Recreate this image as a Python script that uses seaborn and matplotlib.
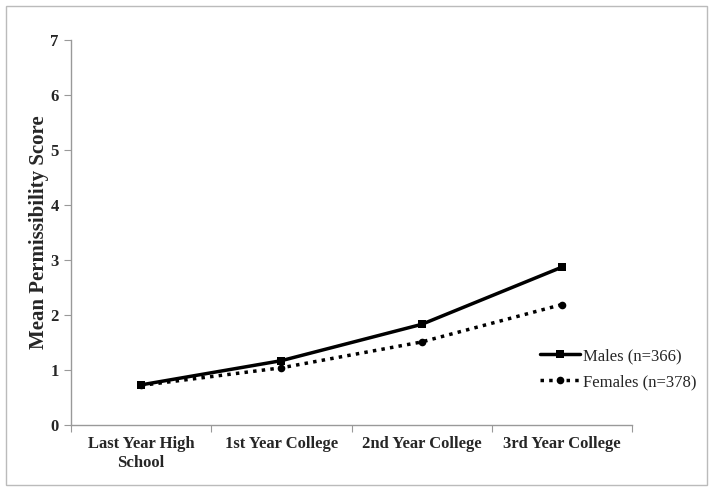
import pandas as pd
import matplotlib.pyplot as plt
import seaborn as sns
from matplotlib.patches import Rectangle

# Values
stages = ['Last Year High\nSchool', '1st Year College', '2nd Year College', '3rd Year College']
males = [0.73, 1.17, 1.83, 2.87]
females = [0.72, 1.04, 1.51, 2.19]
series_names = ['Males (n=366)', 'Females (n=378)']

df = pd.DataFrame({
    'Stage': stages * 2,
    'Score': males + females,
    'Group': [series_names[0]] * 4 + [series_names[1]] * 4,
})

sns.set_style('white')
plt.rcParams['font.family'] = ['Liberation Serif', 'DejaVu Serif']

fig = plt.figure(figsize=(7.13, 4.91), dpi=100)
ax = fig.add_axes([0.0996, 0.1344, 0.7868, 0.7841])

sns.lineplot(data=df, x='Stage', y='Score', style='Group', color='black',
             markers={series_names[0]: 's', series_names[1]: 'o'},
             dashes={series_names[0]: '', series_names[1]: (1, 1.5)},
             linewidth=2.5, markersize=5.5, markeredgewidth=0, ax=ax, sort=False)

ax.set_xlim(-0.5, 3.5)
ax.set_ylim(0, 7)
ax.set_yticks(range(0, 8))
ax.set_xlabel('')
ax.set_ylabel('Mean Permissibility Score', fontsize=15, fontweight='bold', labelpad=1)

# category separators as major ticks, labels on minor ticks
ax.set_xticks([-0.5, 0.5, 1.5, 2.5, 3.5])
ax.set_xticklabels([])
ax.set_xticks(range(4), minor=True)
ax.set_xticklabels(stages, minor=True, fontsize=12, fontweight='bold')
ax.tick_params(axis='x', which='major', direction='out', length=5, color='#999999', bottom=True)
ax.tick_params(axis='x', which='minor', length=0, pad=8)
ax.tick_params(axis='y', direction='out', length=5, color='#999999', left=True,
               labelsize=12, pad=4)
for lbl in ax.get_yticklabels():
    lbl.set_fontweight('bold')

sns.despine(ax=ax)
for side in ['left', 'bottom']:
    ax.spines[side].set_color('#999999')
    ax.spines[side].set_linewidth(1)

leg = ax.legend(loc='center left', bbox_to_anchor=(0.824, 0.145), frameon=False,
                fontsize=12, handlelength=2.4, handletextpad=0.2, labelspacing=0.6,
                borderaxespad=0)

fig.patches.append(Rectangle((0.008, 0.012), 0.984, 0.976, transform=fig.transFigure,
                             fill=False, edgecolor='#bbbbbb', linewidth=1))

plt.savefig('out.png', dpi=100)
plt.close()
